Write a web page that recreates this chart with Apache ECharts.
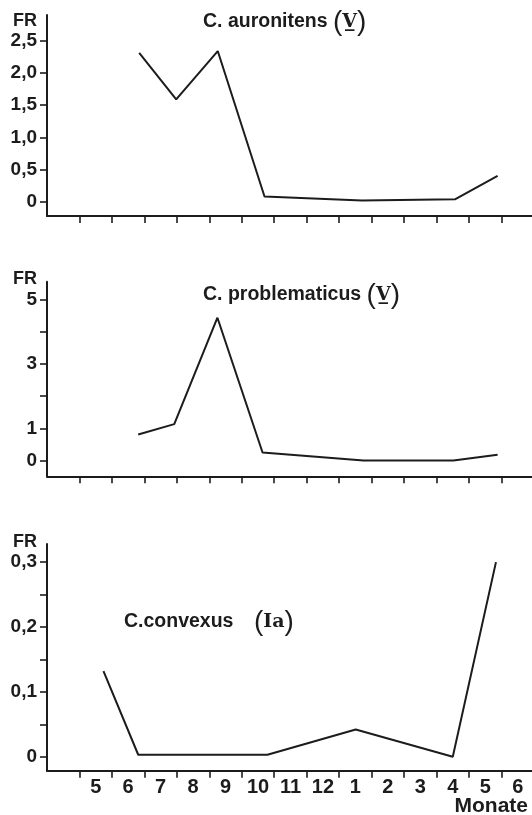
<!DOCTYPE html>
<html>
<head>
<meta charset="utf-8">
<style>
  html, body { margin: 0; padding: 0; background: #fff; }
  #chart { width: 532px; height: 815px; }
</style>
<script src="https://cdn.jsdelivr.net/npm/echarts@6/dist/echarts.min.js"></script>
</head>
<body>
<div id="chart"></div>
<script>
// Month axis: 0 = start of the plot, each unit = one month (tick = month boundary)
const monthTicks = [1, 2, 3, 4, 5, 6, 7, 8, 9, 10, 11, 12, 13, 14];
const monthLabelPos = [1.5, 2.5, 3.5, 4.5, 5.5, 6.5, 7.5, 8.5, 9.5, 10.5, 11.5, 12.5, 13.5, 14.5];
const monthLabels = ['5', '6', '7', '8', '9', '10', '11', '12', '1', '2', '3', '4', '5', '6'];

// C. auronitens (V)
const auronitensX = [2.84, 3.98, 5.26, 6.70, 9.70, 12.58, 13.88];
const auronitensFR = [2.31, 1.59, 2.34, 0.08, 0.02, 0.04, 0.40];
const auronitensTicks = [0, 0.5, 1.0, 1.5, 2.0, 2.5];

// C. problematicus (V)
const problematicusX = [2.81, 3.92, 5.25, 6.64, 9.75, 12.52, 13.88];
const problematicusFR = [0.81, 1.13, 4.43, 0.25, 0.00, 0.00, 0.18];
const problematicusTicks = [0, 1, 2, 3, 4, 5];
const problematicusLabels = [0, 1, 3, 5];

// C. convexus (Ia)
const convexusX = [1.74, 2.81, 6.79, 9.51, 12.50, 13.83];
const convexusFR = [0.132, 0.003, 0.003, 0.042, 0.000, 0.300];
const convexusTicks = [0, 0.05, 0.1, 0.15, 0.2, 0.25, 0.3];
const convexusLabels = [0, 0.1, 0.2, 0.3];

const INK = '#1c1c1c';
const FONT = 'Liberation Sans';

function pairs(xs, ys) { return xs.map((x, i) => [x, ys[i]]); }
function comma(v, digits) { return v === 0 ? '0' : v.toFixed(digits).replace('.', ','); }

const grids = [
  { left: 47, width: 485, top: 15, height: 201 },
  { left: 47, width: 485, top: 281.7, height: 194.6 },
  { left: 47, width: 485, top: 544, height: 226.7 }
].map(g => Object.assign({ containLabel: false, outerBoundsMode: 'none' }, g));

function makeX(idx, showLabels) {
  return {
    type: 'value', gridIndex: idx, min: 0, max: 14.94,
    splitLine: { show: false },
    axisLine: { show: true, onZero: false, lineStyle: { color: INK, width: 2 } },
    axisTick: { show: true, customValues: monthTicks, length: 7, lineStyle: { color: INK, width: 1.6 } },
    axisLabel: {
      show: showLabels, customValues: monthLabelPos, margin: 7,
      color: INK, fontFamily: FONT, fontWeight: 'bold', fontSize: 20,
      formatter: v => monthLabels[Math.round(v - 1.5)]
    }
  };
}

function makeY(idx, min, max, ticks, labels, digits) {
  return {
    type: 'value', gridIndex: idx, min: min, max: max,
    splitLine: { show: false },
    axisLine: { show: true, onZero: false, lineStyle: { color: INK, width: 2 } },
    axisTick: { show: true, customValues: ticks, length: 7, lineStyle: { color: INK, width: 1.6 } },
    axisLabel: {
      customValues: labels, margin: 10,
      color: INK, fontFamily: FONT, fontWeight: 'bold', fontSize: 19,
      formatter: v => comma(v, digits)
    }
  };
}

function lineSeries(idx, data) {
  return {
    type: 'line', xAxisIndex: idx, yAxisIndex: idx, data: data,
    showSymbol: false, symbol: 'none', clip: false, smooth: false,
    lineStyle: { color: INK, width: 2 }
  };
}

const richTitle = {
  t: { fontFamily: FONT, fontWeight: 'bold', fontSize: 19.5, fill: INK, color: INK },
  p: { fontFamily: FONT, fontWeight: 'normal', fontSize: 28, fill: INK, color: INK },
  v: { fontFamily: 'DejaVu Serif', fontWeight: 'bold', fontSize: 19, fill: INK, color: INK }
};

function titleText(x, y, text) {
  return {
    type: 'text', x: x, y: y, silent: true,
    style: { text: text, rich: richTitle, align: 'left', verticalAlign: 'middle', fill: INK }
  };
}

function plainText(x, y, text, align, size) {
  return {
    type: 'text', x: x, y: y, silent: true,
    style: { text: text, font: 'bold ' + size + 'px "Liberation Sans"', fill: INK, align: align, verticalAlign: 'middle' }
  };
}

const chart = echarts.init(document.getElementById('chart'), null, { renderer: 'canvas' });
chart.setOption({
  animation: false,
  backgroundColor: '#ffffff',
  grid: grids,
  xAxis: [makeX(0, false), makeX(1, false), makeX(2, true)],
  yAxis: [
    makeY(0, -0.222, 2.9, auronitensTicks, auronitensTicks, 1),
    makeY(1, -0.487, 5.546, problematicusTicks, problematicusLabels, 0),
    makeY(2, -0.0216, 0.328, convexusTicks, convexusLabels, 1)
  ],
  series: [
    lineSeries(0, pairs(auronitensX, auronitensFR)),
    lineSeries(1, pairs(problematicusX, problematicusFR)),
    lineSeries(2, pairs(convexusX, convexusFR))
  ],
  graphic: [
    plainText(37, 21.5, 'FR', 'right', 18),
    plainText(37, 279.5, 'FR', 'right', 18),
    plainText(37, 542.5, 'FR', 'right', 18),
    titleText(203, 22, '{t|C. auronitens }{p|(}{v|V\u0332}{p|)}'),
    titleText(203, 295, '{t|C. problematicus }{p|(}{v|V\u0332}{p|)}'),
    titleText(124, 622, '{t|C.convexus}'),
    titleText(254, 622, '{p|(}{v|Ia}{p|)}'),
    plainText(528, 806.5, 'Monate', 'right', 21)
  ]
});
</script>
</body>
</html>
